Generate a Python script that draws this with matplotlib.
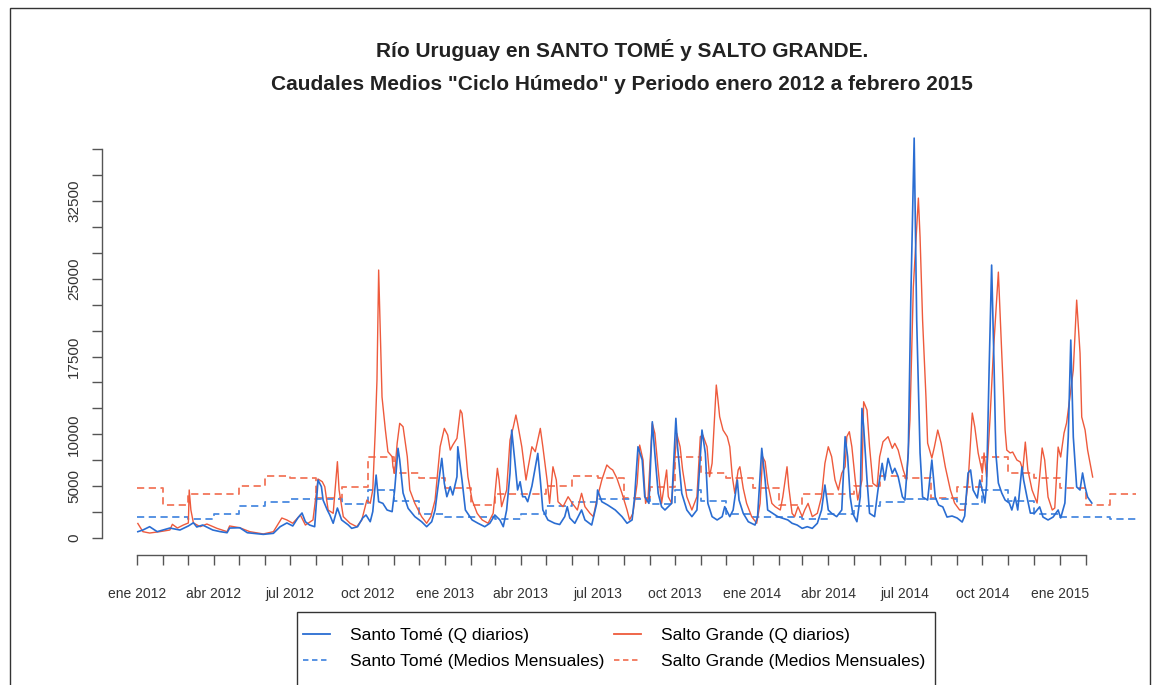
import numpy as np
import pandas as pd
import matplotlib
matplotlib.use('Agg')
import matplotlib.pyplot as plt
import matplotlib.dates as mdates
from matplotlib.lines import Line2D
from matplotlib.patches import Rectangle

# caudales diarios (m3/s), dias contados desde el 1 de enero de 2012
st_dia = [1, 7, 15, 24, 39, 51, 61, 67, 71, 78, 90, 99, 107, 110, 122, 131, 150, 162, 170, 178,
          185, 191, 196, 200, 205, 211, 215, 219, 221, 226, 229, 233, 238, 243, 251, 255, 262, 268, 272, 277,
          280, 284, 286, 287, 292, 297, 303, 306, 310, 312, 316, 322, 330, 338, 344, 350, 354, 357, 362, 365,
          368, 372, 375, 380, 381, 386, 390, 398, 405, 413, 419, 425, 431, 435, 439, 443, 445, 449, 452, 455,
          458, 461, 464, 469, 476, 479, 482, 488, 496, 502, 508, 511, 514, 520, 528, 532, 540, 546, 547, 552,
          559, 568, 576, 582, 588, 591, 595, 600, 603, 608, 612, 615, 619, 623, 627, 635, 640, 642, 647, 653,
          659, 665, 671, 675, 678, 683, 689, 695, 698, 704, 708, 713, 715, 720, 726, 734, 737, 742, 746, 749,
          755, 761, 767, 773, 778, 784, 790, 796, 802, 808, 813, 817, 821, 825, 831, 837, 841, 844, 847, 850,
          855, 859, 861, 863, 867, 870, 876, 880, 885, 888, 892, 897, 900, 904, 909, 912, 916, 919, 923, 926,
          930, 933, 939, 944, 948, 952, 957, 962, 968, 974, 980, 983, 987, 990, 993, 998, 1001, 1005, 1007, 1009,
          1012, 1015, 1018, 1020, 1023, 1027, 1031, 1036, 1039, 1043, 1046, 1051, 1053, 1057, 1061, 1066, 1072, 1076, 1082, 1088,
          1094, 1097, 1102, 1106, 1109, 1112, 1116, 1120, 1123, 1126, 1129, 1134]
st_q = [610, 770, 1090, 610, 960, 770, 1160, 1470, 1060, 1250, 770, 610, 510, 960, 990, 510, 350, 450, 1090, 1450,
        1160, 1930, 2410, 1570, 1250, 1090, 5590, 4950, 3660, 2700, 2220, 1420, 2890, 1740, 1250, 930, 1090, 1930, 2220, 1570,
        2540, 6070, 4340, 3500, 3340, 2700, 2540, 4630, 8650, 7520, 4340, 2860, 2060, 1570, 1090, 1570, 2700, 4630, 7680, 5270,
        3980, 4950, 4150, 5910, 8800, 5590, 2700, 1740, 1420, 1090, 1420, 2220, 1740, 1090, 2700, 6240, 10410, 7200, 4630, 5430,
        3980, 3980, 3500, 5000, 8160, 5590, 2700, 1740, 1420, 1300, 2060, 3020, 1930, 1420, 2700, 1740, 1250, 3340, 4630, 3500,
        3180, 2700, 2060, 1420, 1740, 3980, 8800, 7520, 3980, 3340, 11210, 8160, 4310, 3020, 2700, 3340, 11540, 8800, 4310, 2700,
        2060, 2700, 10410, 8160, 3340, 2060, 1740, 2060, 3020, 2060, 2700, 5590, 3660, 2380, 1570, 1250, 2060, 8650, 5590, 2700,
        2380, 2060, 1900, 1740, 1420, 1250, 930, 1090, 930, 1420, 2700, 5110, 2700, 2380, 2060, 2700, 9770, 7840, 3980, 2380,
        1570, 3980, 12500, 10730, 5590, 2380, 2060, 4630, 7200, 5590, 7680, 6240, 6720, 5910, 3980, 3660, 8160, 22940, 38560, 21000,
        8200, 3950, 3660, 7520, 3950, 3180, 3000, 2020, 2120, 1930, 1540, 2120, 6270, 6560, 4630, 3860, 5590, 4240, 3370, 5110,
        16200, 26320, 16200, 8200, 5300, 4340, 3660, 3370, 2700, 3950, 2700, 6850, 5590, 3950, 2400, 2400, 3000, 2020, 1740, 2020,
        2700, 1930, 3370, 9740, 19090, 9740, 4920, 4630, 6270, 4920, 3950, 3370]

sg_dia = [1, 7, 15, 27, 39, 42, 48, 55, 61, 62, 64, 67, 75, 83, 95, 107, 110, 122, 134, 150,
          162, 172, 178, 185, 194, 200, 209, 215, 220, 223, 227, 233, 238, 240, 245, 253, 261, 267, 273, 277,
          280, 283, 285, 287, 291, 295, 298, 303, 304, 306, 309, 312, 316, 321, 324, 330, 338, 344, 349, 354,
          360, 365, 369, 372, 375, 380, 384, 386, 390, 393, 398, 404, 410, 417, 423, 428, 430, 433, 439, 443,
          447, 450, 452, 457, 462, 464, 469, 473, 479, 482, 487, 490, 494, 498, 500, 506, 512, 517, 523, 528,
          532, 538, 542, 546, 552, 558, 562, 565, 570, 576, 582, 585, 589, 594, 597, 601, 604, 607, 612, 615,
          619, 623, 629, 631, 635, 641, 645, 648, 653, 659, 665, 669, 672, 677, 680, 683, 688, 690, 692, 696,
          701, 704, 707, 710, 714, 716, 720, 724, 730, 736, 740, 743, 746, 749, 754, 758, 764, 767, 772, 774,
          778, 781, 785, 790, 793, 797, 802, 808, 813, 817, 821, 825, 829, 833, 837, 841, 843, 846, 849, 853,
          856, 861, 863, 867, 870, 874, 879, 882, 886, 892, 897, 900, 904, 910, 914, 918, 922, 928, 930, 933,
          937, 939, 944, 947, 951, 955, 960, 966, 971, 977, 983, 987, 992, 995, 999, 1004, 1006, 1009, 1013, 1017,
          1023, 1027, 1031, 1033, 1037, 1040, 1045, 1049, 1052, 1055, 1058, 1063, 1069, 1072, 1075, 1078, 1082, 1087, 1090, 1094,
          1097, 1101, 1104, 1108, 1112, 1116, 1120, 1122, 1126, 1129, 1135]
sg_q = [1400, 610, 480, 610, 770, 1320, 960, 1250, 1450, 4630, 2700, 1450, 1090, 1350, 930, 610, 1160, 990, 610, 390,
        610, 1930, 1740, 1420, 2220, 1250, 1740, 5690, 5430, 4950, 2700, 2380, 7360, 4630, 2060, 1420, 1090, 1740, 3660, 3340,
        4630, 10410, 15230, 25840, 13600, 10410, 8320, 7840, 6870, 6240, 9150, 11060, 10730, 7840, 4630, 3340, 2060, 1420, 2060, 3660,
        8800, 10570, 9930, 8480, 8960, 9610, 12340, 12020, 8800, 5910, 3660, 2380, 1740, 1420, 2380, 6720, 5590, 3020, 4630, 9450,
        10730, 11860, 11060, 8800, 5590, 6560, 8800, 8320, 10570, 8800, 5590, 3340, 6870, 5590, 3500, 3020, 3980, 3340, 2700, 4310,
        3020, 2380, 2060, 3660, 5590, 7040, 6720, 6560, 5750, 4310, 2700, 1740, 2380, 5270, 8960, 7520, 3340, 3980, 11060, 10090,
        6560, 3340, 6560, 3980, 3340, 10090, 8800, 6560, 3980, 2700, 3980, 9770, 9930, 8800, 5910, 7200, 14750, 13300, 11690, 10410,
        9770, 8800, 5910, 4310, 6560, 6870, 4790, 3340, 2060, 1420, 3340, 7840, 7360, 5270, 3340, 3020, 2700, 3980, 6870, 4950,
        2380, 2060, 3020, 2060, 2700, 3340, 2060, 2380, 3980, 7200, 8800, 7840, 5590, 4630, 6240, 6870, 9770, 10250, 8800, 5590,
        3660, 5590, 13140, 12340, 8800, 5270, 4950, 7840, 9280, 9770, 8650, 9130, 8480, 6560, 5590, 11380, 24200, 32780, 29020, 21020,
        13600, 9150, 7710, 8770, 10410, 9150, 6850, 4630, 3370, 2700, 2700, 5300, 12050, 10700, 8200, 6270, 8200, 5880, 11380, 17830,
        25640, 17830, 10410, 8480, 8200, 8290, 7520, 7330, 6560, 9250, 6560, 4630, 3370, 5880, 8680, 7520, 3950, 2700, 2890, 8770,
        7810, 10120, 11090, 13600, 16200, 22940, 17830, 11670, 10410, 8480, 5880]

# medios mensuales del ciclo humedo (ene..dic)
st_mensual = [2060, 2060, 1830, 2310, 3080, 3440, 3800, 3750, 3300, 4630, 3570, 2310]
sg_mensual = [4850, 3220, 4210, 4210, 4980, 5980, 5800, 3900, 4950, 7790, 6250, 5800]

meses_es = ['ene', 'feb', 'mar', 'abr', 'may', 'jun', 'jul', 'ago', 'sep', 'oct', 'nov', 'dic']
y_ticks = np.arange(0, 37501, 2500)
y_labels = [0, 5000, 10000, 17500, 25000, 32500]

azul = '#2a6dd2'
rojo = '#ee5a3c'
azul_claro = '#4a8ae0'
rojo_claro = '#f2765a'

plt.rcParams['font.family'] = ['Liberation Sans', 'DejaVu Sans']

inicio = pd.Timestamp('2012-01-01')
st_fecha = inicio + pd.to_timedelta(st_dia, unit='D')
sg_fecha = inicio + pd.to_timedelta(sg_dia, unit='D')

meses = pd.date_range('2012-01-01', '2015-04-01', freq='MS')
st_mm = [st_mensual[m.month - 1] for m in meses[:-1]]
st_mm.append(st_mm[-1])
sg_mm = [sg_mensual[m.month - 1] for m in meses[:-1]]
sg_mm.append(sg_mm[-1])

W, H = 1155, 685
fig = plt.figure(figsize=(W / 100, H / 100), dpi=100)
ax = fig.add_axes([102 / W, 130 / H, (1150 - 102) / W, (555 - 130) / H])

ax.plot(meses, sg_mm, color=rojo_claro, lw=1.3, dashes=(4, 2.5), drawstyle='steps-post')
ax.plot(meses, st_mm, color=azul_claro, lw=1.3, dashes=(4, 2.5), drawstyle='steps-post')
ax.plot(sg_fecha, sg_q, color=rojo, lw=1.0)
ax.plot(st_fecha, st_q, color=azul, lw=1.2)

px_dia = 0.842
ax.set_xlim(inicio - pd.Timedelta(days=35 / px_dia), inicio + pd.Timedelta(days=1013 / px_dia))
ax.set_ylim(-17 / 0.01037, 408 / 0.01037)

for s in ['top', 'right']:
    ax.spines[s].set_visible(False)
ax.spines['left'].set_bounds(0, 37500)
ax.spines['bottom'].set_bounds(mdates.date2num(pd.Timestamp('2012-01-01')),
                               mdates.date2num(pd.Timestamp('2015-02-01')))
for s in ['left', 'bottom']:
    ax.spines[s].set_color('#555555')
    ax.spines[s].set_linewidth(1.0)

ax.set_yticks(y_ticks)
ax.set_yticklabels([str(v) if v in y_labels else '' for v in y_ticks], rotation=90, va='center')
ax.tick_params(axis='y', length=7, width=1, color='#555555', labelsize=11, labelcolor='#333333', pad=8)

todos = pd.date_range('2012-01-01', '2015-02-01', freq='MS')
trimestres = pd.date_range('2012-01-01', '2015-01-01', freq='QS-JAN')
ax.set_xticks(todos, minor=True)
ax.set_xticks(trimestres)
ax.set_xticklabels([f'{meses_es[d.month - 1]} {d.year}' for d in trimestres])
ax.tick_params(axis='x', which='both', length=7, width=1, color='#555555')
ax.tick_params(axis='x', labelsize=10, labelcolor='#333333', pad=16)

fig.text(622 / W, 1 - 50 / H, 'Río Uruguay en SANTO TOMÉ y SALTO GRANDE.', ha='center', va='center',
         fontsize=15, fontweight='bold', color='#222222')
fig.text(622 / W, 1 - 84 / H, 'Caudales Medios "Ciclo Húmedo" y Periodo enero 2012 a febrero 2015', ha='center',
         va='center', fontsize=15, fontweight='bold', color='#222222')

handles = [Line2D([], [], color=azul, lw=1.3),
           Line2D([], [], color=azul_claro, lw=1.3, dashes=(3, 2)),
           Line2D([], [], color=rojo, lw=1.3),
           Line2D([], [], color=rojo_claro, lw=1.3, dashes=(3, 2))]
labels = ['Santo Tomé (Q diarios)', 'Santo Tomé (Medios Mensuales)',
          'Salto Grande (Q diarios)', 'Salto Grande (Medios Mensuales)']
fig.legend(handles, labels, ncol=2, loc='upper left', bbox_to_anchor=(303 / W, 1 - 628 / H),
           fontsize=12.5, frameon=False, handlelength=1.55, handletextpad=1.15, columnspacing=0.55,
           borderpad=0, labelspacing=0.62, borderaxespad=0)

# marco de la leyenda (cortado por el borde inferior)
fig.patches.append(Rectangle((297 / W, -0.02), (935 - 297) / W, (H - 612) / H + 0.02, transform=fig.transFigure,
                             fill=False, edgecolor='#333333', lw=1.0))
# marco exterior de la figura
fig.patches.append(Rectangle((10 / W, -0.01), (1150 - 10) / W, (H - 8) / H + 0.01, transform=fig.transFigure,
                             fill=False, edgecolor='#333333', lw=1.0))

fig.savefig('out.png', dpi=100)
